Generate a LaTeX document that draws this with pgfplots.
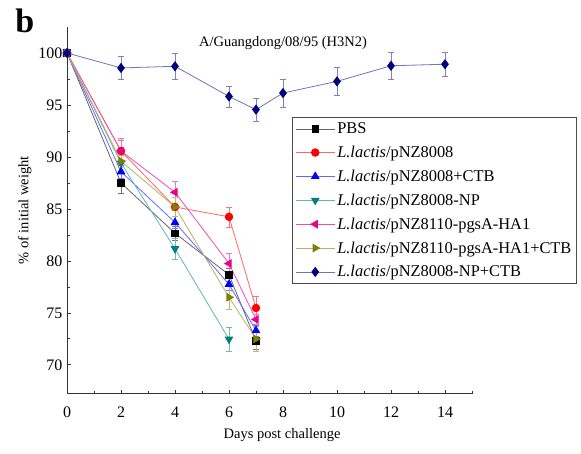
\documentclass[border=0pt]{standalone}
\usepackage{pgfplots}
\pgfplotsset{compat=1.18}
\usepackage{fontspec}
\setmainfont{Liberation Serif}
\definecolor{cteal}{RGB}{0,128,128}
\definecolor{colive}{RGB}{128,128,0}
\definecolor{cnavy}{RGB}{0,0,128}
\begin{document}
\begin{tikzpicture}
\begin{axis}[
  scale only axis, width=405pt, height=367pt,
  xmin=0, xmax=15, ymin=67.2, ymax=102.5,
  axis lines*=left,
  axis line style={line width=1pt, black!80},
  clip=false,
  xtick={0,2,...,14}, minor xtick={1,3,...,15},
  ytick={70,75,...,100}, minor ytick={72.5,77.5,...,97.5},
  tick align=inside,
  major tick length=4pt, minor tick length=3pt,
  tick style={line width=0.8pt, black!80},
  tick label style={font=\fontsize{16}{18}\selectfont},
  xticklabel style={yshift=-9pt},
  yticklabel style={xshift=-1pt},
  /pgf/number format/assume math mode=true,
  xlabel={Days post challenge},
  ylabel={\% of initial weight},
  label style={font=\fontsize{14.5}{16}\selectfont},
  xlabel style={at={(axis description cs:0.531,-0.112)}, anchor=center},
  ylabel style={at={(axis description cs:-0.104,0.5)}, anchor=center},
  legend cell align=left,
  legend style={at={(axis cs:8.33,93.8)}, anchor=north west,
    font=\fontsize{16.4}{19}\selectfont, draw=black!70, line width=0.6pt,
    row sep=7pt, inner sep=3pt},
  legend image code/.code={\draw[mark repeat=2,mark phase=2] plot coordinates {(0cm,0cm) (0.69cm,0cm) (1.38cm,0cm)};},
  every axis plot/.append style={line width=0.8pt, solid},
  error bars/error bar style={line width=0.6pt},
]
% PBS
\addplot[black!60, mark=square*, mark size=3.3pt, mark options={fill=black, draw=black, solid},
  error bars/.cd, y dir=both, y explicit, error bar style={black!55}, error mark options={rotate=90, mark size=3pt, black!55}]
  coordinates {(0,100) +- (0,0) (2,87.5) +- (0,1.0) (4,82.66) +- (0,0.7) (6,78.67) +- (0,0.6) (7,72.3) +- (0,0.8)};
\addlegendentry{PBS}
% pNZ8008
\addplot[red!60, mark=*, mark size=3.8pt, mark options={fill=red, draw=red, solid},
  error bars/.cd, y dir=both, y explicit, error bar style={red!55}, error mark options={rotate=90, mark size=3pt, red!55}]
  coordinates {(0,100) +- (0,0) (2,90.57) +- (0,1.0) (4,85.19) +- (0,0.9) (6,84.24) +- (0,0.95) (7,75.47) +- (0,1.1)};
\addlegendentry{\textit{L.lactis}/pNZ8008}
% pNZ8008+CTB
\addplot[blue!60, mark=triangle*, mark size=4.3pt, mark options={fill=blue, draw=blue, solid},
  error bars/.cd, y dir=both, y explicit, error bar style={blue!55}, error mark options={rotate=90, mark size=3pt, blue!55}]
  coordinates {(0,100) +- (0,0) (2,88.58) +- (0,0.6) (4,83.7) +- (0,0.6) (6,77.75) +- (0,0.6) (7,73.3) +- (0,0.5)};
\addlegendentry{\textit{L.lactis}/pNZ8008+CTB}
% pNZ8008-NP
\addplot[cteal!60, mark=triangle*, mark size=4.3pt, mark options={fill=cteal, draw=cteal, rotate=180, solid},
  error bars/.cd, y dir=both, y explicit, error bar style={cteal!55}, error mark options={rotate=90, mark size=3pt, cteal!55}]
  coordinates {(0,100) +- (0,0) (2,89.4) +- (0,0.8) (4,81.17) +- (0,1.0) (6,72.47) +- (0,1.2)};
\addlegendentry{\textit{L.lactis}/pNZ8008-NP}
% pNZ8110-pgsA-HA1
\addplot[magenta!70, mark=triangle*, mark size=4.3pt, mark options={fill=magenta, draw=magenta, rotate=90, solid},
  error bars/.cd, y dir=both, y explicit, error bar style={magenta!55}, error mark options={rotate=90, mark size=3pt, magenta!55}]
  coordinates {(0,100) +- (0,0) (2,90.57) +- (0,1.2) (4,86.6) +- (0,1.1) (6,79.75) +- (0,1.0) (7,74.37) +- (0,0.5)};
\addlegendentry{\textit{L.lactis}/pNZ8110-pgsA-HA1}
% pNZ8110-pgsA-HA1+CTB
\addplot[colive!60, mark=triangle*, mark size=4.3pt, mark options={fill=colive, draw=colive, rotate=-90, solid},
  error bars/.cd, y dir=both, y explicit, error bar style={colive!55}, error mark options={rotate=90, mark size=3pt, colive!55}]
  coordinates {(0,100) +- (0,0) (2,89.6) +- (0,0.6) (4,85.2) +- (0,0.9) (6,76.5) +- (0,1.1) (7,72.5) +- (0,1.2)};
\addlegendentry{\textit{L.lactis}/pNZ8110-pgsA-HA1+CTB}
% pNZ8008-NP+CTB
\addplot[cnavy!55, mark=diamond*, mark size=4.5pt, mark options={fill=cnavy, draw=cnavy, solid},
  error bars/.cd, y dir=both, y explicit, error bar style={cnavy!50}, error mark options={rotate=90, mark size=3pt, cnavy!50}]
  coordinates {(0,100) +- (0,0) (2,98.56) +- (0,1.1) (4,98.72) +- (0,1.25) (6,95.82) +- (0,1.0) (7,94.55) +- (0,1.1) (8,96.15) +- (0,1.35) (10,97.27) +- (0,1.35) (12,98.77) +- (0,1.3) (14,98.92) +- (0,1.2)};
\addlegendentry{\textit{L.lactis}/pNZ8008-NP+CTB}
\node[font=\fontsize{14.5}{16}\selectfont] at (axis cs:8,101) {A/Guangdong/08/95 (H3N2)};
\node[font=\fontsize{34}{36}\selectfont\bfseries, anchor=base] at (axis description cs:-0.104,0.985) {b};
\coordinate (bl) at (axis description cs:-0.16543,-0.16349);
\coordinate (tr) at (axis description cs:1.26914,1.07357);
\end{axis}
\pgfresetboundingbox
\path (bl) rectangle (tr);
\end{tikzpicture}
\end{document}
